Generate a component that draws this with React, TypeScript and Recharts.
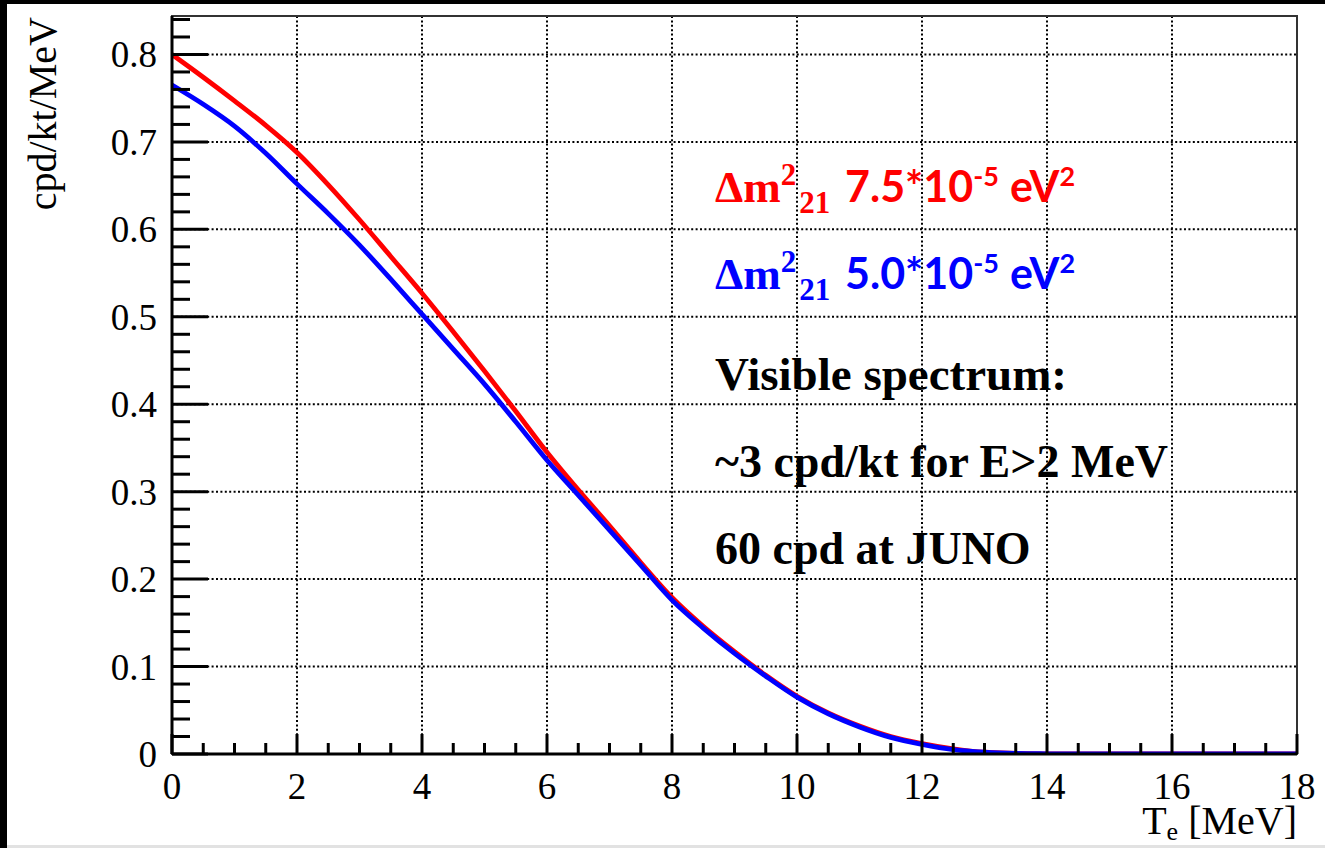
import React from "react";
import { LineChart, Line, XAxis, YAxis, CartesianGrid, ReferenceArea } from "recharts";

// Electron kinetic energy T_e [MeV]
const energies = [
  0, 0.5, 1, 1.5, 2, 2.5, 3, 3.5, 4, 4.5, 5, 5.5, 6, 6.5, 7, 7.5, 8, 8.5, 9,
  9.5, 10, 10.5, 11, 11.5, 12, 12.5, 13, 13.5, 14, 14.5, 15, 15.5, 16, 16.5, 17, 17.5, 18,
];
// Δm²21 = 7.5e-5 eV² (red)
const rate75 = [
  0.8, 0.774, 0.747, 0.719, 0.688, 0.651, 0.611, 0.569, 0.527, 0.483, 0.438, 0.392,
  0.345, 0.302, 0.261, 0.219, 0.179, 0.146, 0.117, 0.09, 0.066, 0.047, 0.032, 0.02,
  0.012, 0.006, 0.002, 0.0007, 0.0002, 0, 0, 0, 0, 0, 0, 0, 0,
];
// Δm²21 = 5.0e-5 eV² (blue)
const rate50 = [
  0.765, 0.743, 0.718, 0.687, 0.652, 0.618, 0.582, 0.543, 0.503, 0.463, 0.423, 0.38,
  0.336, 0.296, 0.256, 0.216, 0.176, 0.144, 0.115, 0.089, 0.065, 0.046, 0.031, 0.019,
  0.011, 0.005, 0.002, 0.0006, 0.0002, 0, 0, 0, 0, 0, 0, 0, 0,
];

const xTicks = [
  0, 0.5, 1, 1.5, 2, 2.5, 3, 3.5, 4, 4.5, 5, 5.5, 6, 6.5, 7, 7.5, 8, 8.5, 9,
  9.5, 10, 10.5, 11, 11.5, 12, 12.5, 13, 13.5, 14, 14.5, 15, 15.5, 16, 16.5, 17, 17.5, 18,
];
const xMajorTicks = [0, 2, 4, 6, 8, 10, 12, 14, 16, 18];
const yTicks = [
  0, 0.02, 0.04, 0.06, 0.08, 0.1, 0.12, 0.14, 0.16, 0.18, 0.2, 0.22, 0.24, 0.26, 0.28,
  0.3, 0.32, 0.34, 0.36, 0.38, 0.4, 0.42, 0.44, 0.46, 0.48, 0.5, 0.52, 0.54, 0.56, 0.58,
  0.6, 0.62, 0.64, 0.66, 0.68, 0.7, 0.72, 0.74, 0.76, 0.78, 0.8, 0.82, 0.84,
];
const yMajorTicks = [0, 0.1, 0.2, 0.3, 0.4, 0.5, 0.6, 0.7, 0.8];
const yMajorLabels = ["0", "0.1", "0.2", "0.3", "0.4", "0.5", "0.6", "0.7", "0.8"];
const xGridValues = [2, 4, 6, 8, 10, 12, 14, 16];
const yGridValues = [0.1, 0.2, 0.3, 0.4, 0.5, 0.6, 0.7, 0.8];
const X_DOMAIN: [number, number] = [0, 18];
const Y_DOMAIN: [number, number] = [0, 0.844];

const data = energies.map((e, i) => ({ e, r75: rate75[i], r50: rate50[i] }));

const SERIF = "'Liberation Serif', 'Times New Roman', serif";
const SANS = "Lato, 'Open Sans', sans-serif";

const near = (a: number, b: number) => Math.abs(a - b) < 1e-6;

const YTick = (props: any) => {
  const { x, y, payload } = props;
  const v = payload.value as number;
  const mi = yMajorTicks.findIndex((m) => near(m, v));
  const major = mi >= 0;
  return (
    <g>
      <line x1={x} x2={x + (major ? 36 : 18)} y1={y} y2={y} stroke="#000" strokeWidth={3} />
      {major && (
        <text x={x - 15} y={y} dy="0.35em" textAnchor="end" fontFamily={SERIF} fontSize={37} fill="#000">
          {yMajorLabels[mi]}
        </text>
      )}
    </g>
  );
};

const XTick = (props: any) => {
  const { x, y, payload } = props;
  const v = payload.value as number;
  const major = xMajorTicks.some((m) => near(m, v));
  return (
    <g>
      <line x1={x} x2={x} y1={y} y2={y - (major ? 20 : 11)} stroke="#000" strokeWidth={3} />
      {major && (
        <text x={x} y={y + 45} textAnchor="middle" fontFamily={SERIF} fontSize={37} fill="#000">
          {String(v)}
        </text>
      )}
    </g>
  );
};

const MassLine = ({ y, color, value }: { y: number; color: string; value: string }) => (
  <text y={y} fill={color} fontWeight="bold">
    <tspan x={715} fontFamily={SERIF} fontSize={45}>Δm</tspan>
    <tspan fontFamily={SERIF} fontSize={31} dy={-17}>2</tspan>
    <tspan fontFamily={SERIF} fontSize={31} dy={28} dx={3}>21</tspan>
    <tspan x={845} dy={-11} fontFamily={SANS} fontSize={43}>{value + "*10"}</tspan>
    <tspan dy={-16} fontFamily={SANS} fontSize={27}>-5</tspan>
    <tspan dx={11} dy={16} fontFamily={SANS} fontSize={43}>eV</tspan>
    <tspan dy={-16} fontFamily={SANS} fontSize={27}>2</tspan>
  </text>
);

export default function App() {
  return (
    <div style={{ position: "absolute", left: 0, top: 0, width: 1325, height: 848, background: "#000", overflow: "hidden" }}>
      <div style={{ position: "absolute", left: 7, top: 4, width: 1318, height: 841, background: "#fff" }} />
      <div style={{ position: "absolute", left: 7, top: 845, width: 1318, height: 3, background: "#e2e2e2" }} />
      <div style={{ position: "absolute", left: 0, top: 0 }}>
        <LineChart width={1325} height={848} data={data} margin={{ top: 16, right: 28, bottom: 0, left: 0 }}>
          <CartesianGrid
            horizontalValues={yGridValues}
            verticalValues={xGridValues}
            stroke="#000"
            strokeWidth={2}
            strokeDasharray="2 2.4"
          />
          <XAxis
            type="number"
            dataKey="e"
            domain={X_DOMAIN}
            allowDataOverflow
            ticks={xTicks}
            interval={0}
            height={94}
            tickSize={0}
            tickMargin={0}
            tickLine={false}
            tick={<XTick />}
            axisLine={{ stroke: "#000", strokeWidth: 3 }}
          />
          <YAxis
            type="number"
            domain={Y_DOMAIN}
            allowDataOverflow
            ticks={yTicks}
            interval={0}
            width={172}
            tickSize={0}
            tickMargin={0}
            tickLine={false}
            tick={<YTick />}
            axisLine={{ stroke: "#000", strokeWidth: 3 }}
          />
          <ReferenceArea
            x1={X_DOMAIN[0]}
            x2={X_DOMAIN[1]}
            y1={Y_DOMAIN[0]}
            y2={Y_DOMAIN[1]}
            fill="none"
            fillOpacity={0}
            stroke="#333"
            strokeWidth={2}
            ifOverflow="visible"
          />
          <Line type="monotone" dataKey="r75" stroke="#ff0000" strokeWidth={4.8} dot={false} isAnimationActive={false} />
          <Line type="monotone" dataKey="r50" stroke="#0000ff" strokeWidth={4.8} dot={false} isAnimationActive={false} />
        </LineChart>
      </div>
      <svg width={1325} height={848} style={{ position: "absolute", left: 0, top: 0, pointerEvents: "none" }}>
        <text transform="rotate(-90, 56, 17)" x={56} y={17} textAnchor="end" fontFamily={SERIF} fontSize={40} fill="#000">
          cpd/kt/MeV
        </text>
        <text x={1297} y={834} textAnchor="end" fontFamily={SERIF} fontSize={40} fill="#000">
          <tspan>T</tspan>
          <tspan fontSize={26} dy={6}>e</tspan>
          <tspan dy={-6} dx={10}>[MeV]</tspan>
        </text>
        <MassLine y={202} color="#ff0000" value="7.5" />
        <MassLine y={289} color="#0000ff" value="5.0" />
        <text x={715} y={390} fontFamily={SERIF} fontWeight="bold" fontSize={47} fill="#000">Visible spectrum:</text>
        <text x={715} y={477} fontFamily={SERIF} fontWeight="bold" fontSize={46} fill="#000">~3 cpd/kt for E&gt;2 MeV</text>
        <text x={715} y={564} fontFamily={SERIF} fontWeight="bold" fontSize={46} fill="#000">60 cpd at JUNO</text>
      </svg>
    </div>
  );
}
